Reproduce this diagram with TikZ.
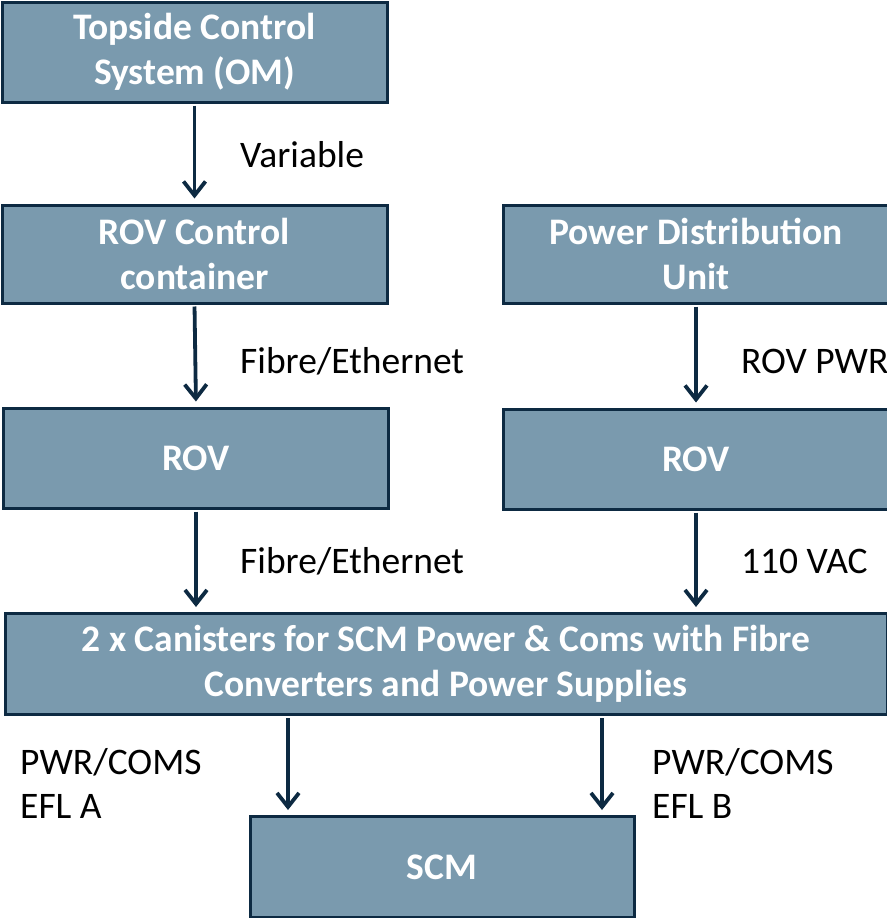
\documentclass[tikz,border=0pt]{standalone}
\usepackage{fontspec}
\setmainfont{Carlito}
\usetikzlibrary{arrows.meta,positioning,calc}

\definecolor{boxfill}{HTML}{7A9AAE}
\definecolor{navy}{HTML}{0D2A42}

\tikzset{
  unit/.style={draw=navy, fill=boxfill, line width=3pt, text=white,
    font=\fontsize{37.5}{45}\selectfont\bfseries, align=center,
    minimum width=385pt, minimum height=100pt, inner sep=0pt},
  flow/.style={draw=navy, line width=3.8pt,
    -{Straight Barb[length=14pt,width=22pt,line width=3.8pt]}, shorten >=5pt, shorten <=2pt},
  tag/.style={anchor=base west, inner sep=0pt, align=left,
    font=\fontsize{37.5}{44}\selectfont}
}

\begin{document}
\begin{tikzpicture}[x=1pt,y=-1pt]
  \useasboundingbox (0,0) rectangle (886,918);

  % boxes
  \node[unit] (topside) at (194.5,52) {Topside Control\\System (OM)};
  \node[unit, minimum height=98pt] (ctrl) at (194.5,254) {ROV Control\\container};
  \node[unit, minimum height=98pt, minimum width=386pt] (pdu) at (696,254) {Power Distribution\\Unit};
  \node[unit] (rovl) at (196,458) {ROV};
  \node[unit] (rovr) at (696,459) {ROV};
  \node[unit, minimum width=882pt, minimum height=101pt] (can) at (446,664)
    {2 x Canisters for SCM Power \& Coms with Fibre\\Converters and Power Supplies};
  \node[unit, minimum width=384pt, minimum height=101pt] (scm) at (442,867) {SCM};

  % connectors
  \coordinate (xa) at (288,0);
  \coordinate (xb) at (602,0);
  \draw[flow] (topside.south) -- (ctrl.north);
  \draw[flow] (ctrl.south) -- (rovl.north);
  \draw[flow] (rovl.south) -- (can.north -| rovl.south);
  \draw[flow] (pdu.south) -- (rovr.north);
  \draw[flow] (rovr.south) -- (can.north -| rovr.south);
  \draw[flow] (can.south -| xa) -- (scm.north -| xa);
  \draw[flow] (can.south -| xb) -- (scm.north -| xb);

  % labels
  \node[tag] (lvar) at (240,167) {Variable};
  \node[tag] (lfib1) at (240,373) {Fibre/Ethernet};
  \node[tag] (lpwr) at (741,373) {ROV PWR};
  \node[tag] (lfib2) at (240,573) {Fibre/Ethernet};
  \node[tag] (lvac) at (741,573) {110 VAC};
  \node[tag] (lefla) at (20,818) {PWR/COMS\\EFL A};
  \node[tag] (leflb) at (652,818) {PWR/COMS\\EFL B};
\end{tikzpicture}
\end{document}
